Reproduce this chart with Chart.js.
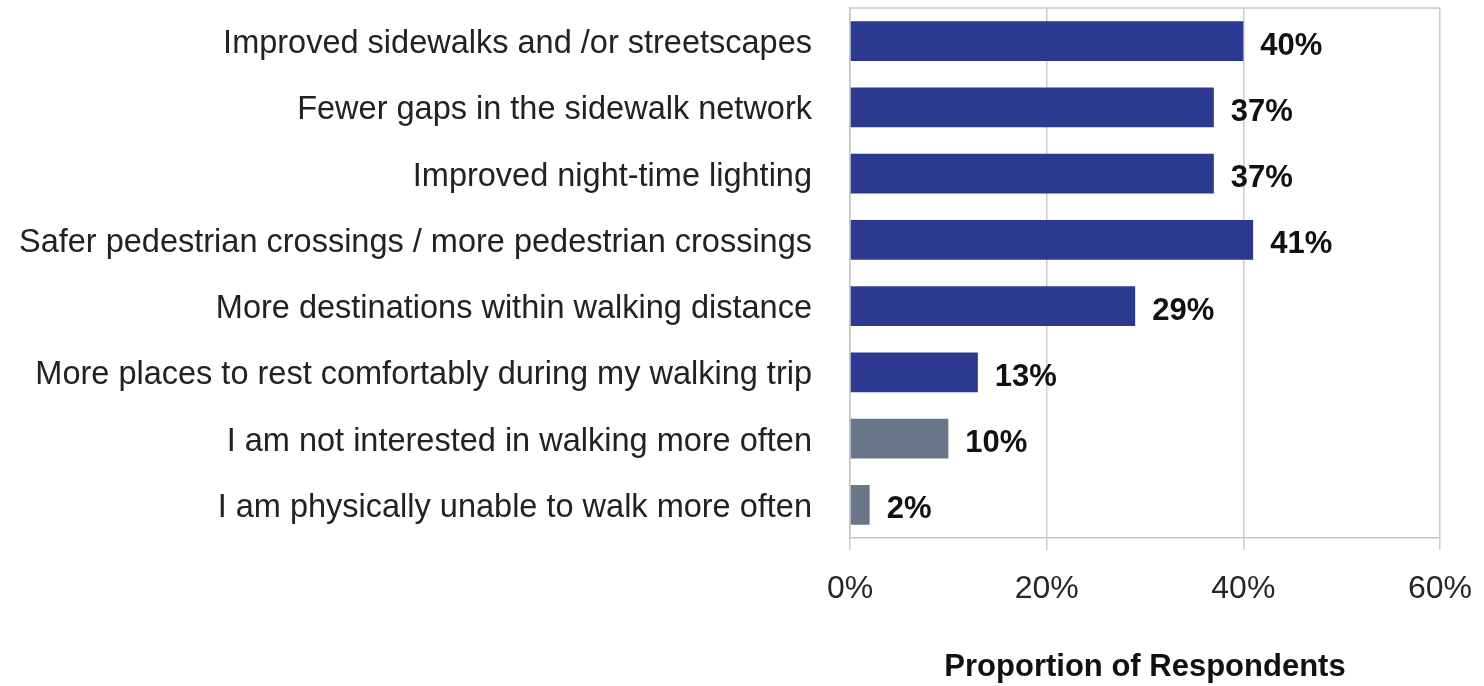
<!DOCTYPE html>
<html>
<head>
<meta charset="utf-8">
<script src="https://cdn.jsdelivr.net/npm/chart.js@4.4.1/dist/chart.umd.min.js"></script>
<style>
  html, body { margin: 0; padding: 0; background: #ffffff; }
  #wrap { width: 1484px; height: 686px; position: relative; }
</style>
</head>
<body>
<div id="wrap"><canvas id="c" width="1484" height="686"></canvas></div>
<script>
const categories = [
  "Improved sidewalks and /or streetscapes",
  "Fewer gaps in the sidewalk network",
  "Improved night-time lighting",
  "Safer pedestrian crossings / more pedestrian crossings",
  "More destinations within walking distance",
  "More places to rest comfortably during my walking trip",
  "I am not interested in walking more often",
  "I am physically unable to walk more often"
];
const values = [40, 37, 37, 41, 29, 13, 10, 2];
const barColors = ["#2b3990", "#2b3990", "#2b3990", "#2b3990", "#2b3990", "#2b3990", "#6a778a", "#6a778a"];
const xTicks = [0, 20, 40, 60];
const axisTitle = "Proportion of Respondents";

const FONT = "'Liberation Sans', Arial, sans-serif";

const valueLabels = {
  id: 'valueLabels',
  afterDatasetsDraw(chart) {
    const ctx = chart.ctx;
    const meta = chart.getDatasetMeta(0);
    ctx.save();
    ctx.font = "bold 31px " + FONT;
    ctx.fillStyle = "#111111";
    ctx.textAlign = "left";
    ctx.textBaseline = "middle";
    meta.data.forEach((bar, i) => {
      ctx.fillText(values[i] + "%", bar.x + 17, bar.y + 5);
    });
    ctx.restore();
  }
};

const frame = {
  id: 'frame',
  beforeDatasetsDraw(chart) {
    const a = chart.chartArea, ctx = chart.ctx;
    ctx.save();
    ctx.strokeStyle = "#c8c8c8";
    ctx.lineWidth = 1.5;
    ctx.beginPath();
    ctx.moveTo(a.left, a.top);
    ctx.lineTo(a.right, a.top);
    ctx.stroke();
    ctx.restore();
  }
};

new Chart(document.getElementById('c'), {
  type: 'bar',
  data: {
    labels: categories,
    datasets: [{
      data: values,
      backgroundColor: barColors,
      borderWidth: 0,
      barPercentage: 0.6,
      categoryPercentage: 1.0
    }]
  },
  options: {
    indexAxis: 'y',
    responsive: false,
    animation: false,
    events: [],
    layout: { padding: { top: 8, right: 44, bottom: 0, left: 0 } },
    plugins: { legend: { display: false }, tooltip: { enabled: false } },
    scales: {
      x: {
        min: 0, max: 60,
        afterBuildTicks(axis) { axis.ticks = xTicks.map(v => ({ value: v })); },
        afterFit(axis) { axis.height = 148; axis.paddingLeft = 0; axis.paddingRight = 0; },
        grid: { color: "#cccccc", lineWidth: 1.5, tickLength: 12, drawTicks: true },
        border: { display: true, color: "#c4c4c4", width: 1.5 },
        ticks: {
          font: { family: FONT, size: 32 },
          color: "#262626",
          padding: 20,
          maxRotation: 0,
          callback: v => v + "%"
        },
        title: {
          display: true,
          text: axisTitle,
          font: { family: FONT, size: 31, weight: 'bold' },
          color: "#111111",
          padding: { top: 0, bottom: 0 }
        }
      },
      y: {
        afterFit(axis) { axis.width = 850; axis.paddingTop = 0; axis.paddingBottom = 0; },
        grid: { display: false, drawTicks: false },
        border: { display: true, color: "#c4c4c4", width: 1.5 },
        ticks: {
          font: { family: FONT, size: 32.5 },
          color: "#222222",
          padding: 38,
          labelOffset: 3
        }
      }
    }
  },
  plugins: [valueLabels, frame]
});
</script>
</body>
</html>
